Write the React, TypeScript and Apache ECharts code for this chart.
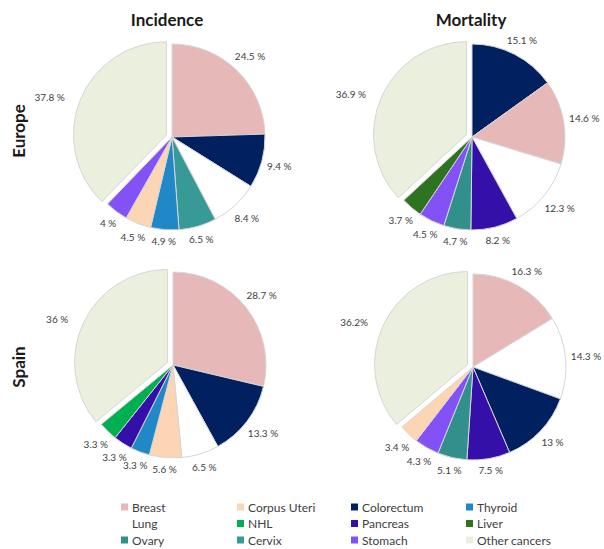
import React, { useEffect, useRef } from "react";
import * as echarts from "echarts";

// ---- Data ----
const legendCol1 = ["Breast", "Lung", "Ovary"];
const legendCol2 = ["Corpus Uteri", "NHL", "Cervix"];
const legendCol3 = ["Colorectum", "Pancreas", "Stomach"];
const legendCol4 = ["Thyroid", "Liver", "Other cancers"];

const colors: Record<string, string> = {
  Breast: "#e6b8b7",
  "Corpus Uteri": "#fcd5b4",
  Colorectum: "#002060",
  Thyroid: "#2188c8",
  Lung: "#ffffff",
  NHL: "#00b050",
  Pancreas: "#3510a8",
  Liver: "#2e7420",
  Ovary: "#31908c",
  Cervix: "#389a96",
  Stomach: "#8352f7",
  "Other cancers": "#ebf0de",
};

const europeIncidenceNames = ["Breast", "Colorectum", "Lung", "Cervix", "Thyroid", "Corpus Uteri", "Stomach", "Other cancers"];
const europeIncidenceValues = [24.5, 9.4, 8.4, 6.5, 4.9, 4.5, 4, 37.8];

const europeMortalityNames = ["Colorectum", "Breast", "Lung", "Pancreas", "Ovary", "Stomach", "Liver", "Other cancers"];
const europeMortalityValues = [15.1, 14.6, 12.3, 8.2, 4.7, 4.5, 3.7, 36.9];

const spainIncidenceNames = ["Breast", "Colorectum", "Lung", "Corpus Uteri", "Thyroid", "Pancreas", "NHL", "Other cancers"];
const spainIncidenceValues = [28.7, 13.3, 6.5, 5.6, 3.3, 3.3, 3.3, 36];

const spainMortalityNames = ["Breast", "Lung", "Colorectum", "Pancreas", "Ovary", "Stomach", "Corpus Uteri", "Other cancers"];
const spainMortalityValues = [16.3, 14.3, 13, 7.5, 5.1, 4.3, 3.4, 36.2];

const colTitles = ["Incidence", "Mortality"];
const rowTitles = ["Europe", "Spain"];

const FONT = "Lato, 'Open Sans', sans-serif";
const RADIUS = 93;
const OFFSET = 6;
const GAP = 5;
const OTHER = "Other cancers";

function makePie(names: string[], values: number[], center: [number, number], noSpaceOther = false) {
  const total = values.reduce((a, b) => a + b, 0);
  const mids: number[] = [];
  let acc = 0;
  values.forEach((v) => {
    mids.push(((acc + v / 2) / total) * Math.PI * 2);
    acc += v;
  });
  return {
    type: "pie",
    center,
    radius: RADIUS,
    startAngle: 90,
    clockwise: true,
    selectedMode: "multiple",
    selectedOffset: OFFSET,
    avoidLabelOverlap: false,
    label: {
      show: true,
      position: "outside",
      fontFamily: FONT,
      fontSize: 10,
      color: "#404040",
      overflow: "none",
      formatter: (p: any) =>
        noSpaceOther && p.name === OTHER ? `${p.value}%` : `${p.value} %`,
    },
    labelLine: { show: false, length: 4, length2: 2 },
    labelLayout: (p: any) => {
      if (names[p.dataIndex] === OTHER) return {};
      const th = mids[p.dataIndex];
      const s = Math.sin(th);
      const c = Math.cos(th);
      const w = p.labelRect.width;
      const h = p.labelRect.height;
      const d = RADIUS + GAP + (w / 2) * Math.abs(s) + (h / 2) * Math.abs(c);
      return {
        x: center[0] + d * s,
        y: center[1] - d * c,
        align: "center",
        verticalAlign: "middle",
      };
    },
    itemStyle: { borderColor: "#d6d6d6", borderWidth: 1 },
    emphasis: { disabled: true },
    data: names.map((n, i) => ({
      name: n,
      value: values[i],
      selected: n === OTHER,
      itemStyle: { color: colors[n] },
      ...(n === OTHER ? { labelLine: { show: false, length: 9, length2: 2 } } : {}),
    })),
  };
}

function makeLegend(data: string[], left: number) {
  return {
    orient: "vertical",
    left,
    top: 501,
    padding: 0,
    itemWidth: 7,
    itemHeight: 7,
    itemGap: 4.5,
    icon: "rect",
    selectedMode: false,
    textStyle: { fontFamily: FONT, fontSize: 12, color: "#404040", padding: [0, 0, 0, -1] },
    data: data.map((n) => ({ name: n, itemStyle: { color: colors[n], borderWidth: 0 } })),
  };
}

function headText(text: string, x: number, y: number, rotate: boolean) {
  return {
    type: "text",
    x,
    y,
    rotation: rotate ? Math.PI / 2 : 0,
    style: {
      text,
      font: `bold 17px ${FONT}`,
      fill: "#1a1a1a",
      align: "center",
      verticalAlign: "middle",
    },
  };
}

export default function App() {
  const ref = useRef<HTMLDivElement>(null);
  useEffect(() => {
    if (!ref.current) return;
    const chart = echarts.init(ref.current, null, { renderer: "svg" });
    chart.setOption({
      animation: false,
      backgroundColor: "#ffffff",
      graphic: [
        headText(colTitles[0], 167, 19, false),
        headText(colTitles[1], 471, 19, false),
        headText(rowTitles[0], 18, 131, true),
        headText(rowTitles[1], 18, 367, true),
      ],
      legend: [
        makeLegend(legendCol1, 121),
        makeLegend(legendCol2, 237),
        makeLegend(legendCol3, 351),
        makeLegend(legendCol4, 466),
      ],
      series: [
        makePie(europeIncidenceNames, europeIncidenceValues, [172, 137]),
        makePie(europeMortalityNames, europeMortalityValues, [472, 137]),
        makePie(spainIncidenceNames, spainIncidenceValues, [173, 365]),
        makePie(spainMortalityNames, spainMortalityValues, [473, 367], true),
      ],
    });
    return () => chart.dispose();
  }, []);
  return <div ref={ref} style={{ position: "fixed", left: 0, top: 0, width: 604, height: 549 }} />;
}
